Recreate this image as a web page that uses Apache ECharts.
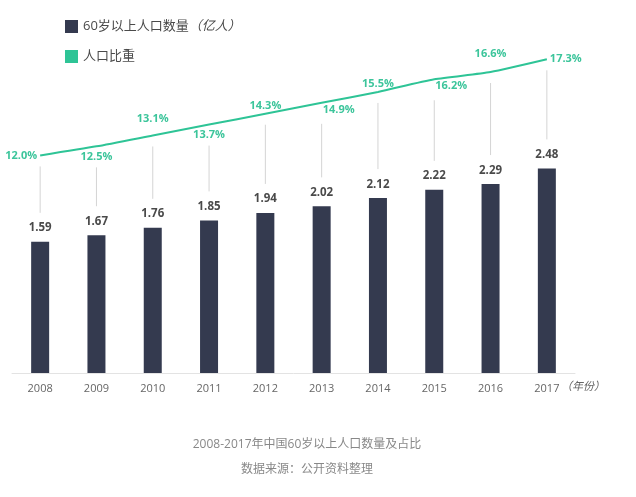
<!DOCTYPE html>
<html>
<head>
<meta charset="utf-8">
<script src="https://cdn.jsdelivr.net/npm/echarts@6/dist/echarts.min.js"></script>
<style>
html,body{margin:0;padding:0;background:#fff;}
#chart{width:636px;height:497px;}
</style>
</head>
<body>
<div id="chart"></div>
<script>
// ---- data ----
const years = ['2008','2009','2010','2011','2012','2013','2014','2015','2016','2017'];
const population = [1.59, 1.67, 1.76, 1.85, 1.94, 2.02, 2.12, 2.22, 2.29, 2.48];
const share = [12.0, 12.5, 13.1, 13.7, 14.3, 14.9, 15.5, 16.2, 16.6, 17.3];
const barName = '60岁以上人口数量';
const lineName = '人口比重';
const unitText = '（亿人）';
const yearUnit = '（年份）';
const caption1 = '2008-2017年中国60岁以上人口数量及占比';
const caption2 = '数据来源：公开资料整理';

// ---- style (label placement for the share line) ----
const pctLabelStyle = [
  {position:'left', distance:3, offset:[0,0]},
  {position:'bottom', distance:5, offset:[0,0]},
  {position:'top', distance:11, offset:[0,0]},
  {position:'bottom', distance:5, offset:[0,0]},
  {position:'top', distance:2, offset:[0,0]},
  {position:'bottom', distance:2, offset:[17,0]},
  {position:'top', distance:3, offset:[0,0]},
  {position:'bottom', distance:1, offset:[17,0]},
  {position:'top', distance:13, offset:[0,0]},
  {position:'right', distance:3, offset:[0,0]}
];

const BAR_MAX = 4;
const PCT_MAX = 18.2;
const FONT = "'Open Sans', 'Noto Sans CJK SC', sans-serif";
const BAR_COLOR = '#343a4f';
const GREEN = '#2ec496';

const chart = echarts.init(document.getElementById('chart'));
chart.setOption({
  backgroundColor: '#fff',
  animation: false,
  textStyle: {fontFamily: FONT},
  legend: {
    orient: 'vertical',
    left: 60,
    top: 15,
    itemWidth: 13,
    itemHeight: 13,
    itemGap: 17,
    icon: 'rect',
    data: [barName, lineName],
    formatter: function (name) {
      return name === barName ? '{a|' + name + '}{b|' + unitText + '}' : '{a|' + name + '}';
    },
    textStyle: {
      rich: {
        a: {fontSize: 13, color: '#4a4a4a', fontFamily: FONT},
        b: {fontSize: 13, color: '#4a4a4a', fontStyle: 'italic', fontFamily: FONT}
      }
    }
  },
  grid: {left: 12, right: 61, top: 43, bottom: 124, containLabel: false},
  xAxis: {
    type: 'category',
    data: years,
    axisLine: {lineStyle: {color: '#e3e3e3', width: 1}},
    axisTick: {show: false},
    axisLabel: {color: '#666', fontSize: 11, margin: 10, fontFamily: FONT}
  },
  yAxis: [
    {type: 'value', min: 0, max: BAR_MAX, show: false, splitLine: {show: false}},
    {type: 'value', min: 0, max: PCT_MAX, show: false, splitLine: {show: false}}
  ],
  graphic: [
    {type: 'text', x: 561, y: 387, style: {text: yearUnit, fill: '#666', font: 'italic 11px ' + FONT, verticalAlign: 'middle', align: 'left'}},
    {type: 'text', x: 307, y: 445, style: {text: caption1, fill: '#888', font: '12px ' + FONT, align: 'center', verticalAlign: 'middle'}},
    {type: 'text', x: 307, y: 470, style: {text: caption2, fill: '#888', font: '12px ' + FONT, align: 'center', verticalAlign: 'middle'}}
  ],
  series: [
    {
      name: barName,
      type: 'bar',
      data: population,
      barWidth: 18,
      itemStyle: {color: BAR_COLOR},
      label: {
        show: true,
        position: 'top',
        distance: 8,
        color: '#4a4a4a',
        fontSize: 11.5,
        fontWeight: 'bold',
        fontFamily: FONT
      },
      z: 2
    },
    {
      name: 'connector',
      type: 'custom',
      data: years.map((y, i) => [i, population[i], share[i]]),
      encode: {x: 0, y: 1},
      silent: true,
      renderItem: function (params, api) {
        const i = api.value(0);
        const bar = api.coord([i, api.value(1)]);
        const pct = api.coord([i, api.value(2) * BAR_MAX / PCT_MAX]);
        const below = pctLabelStyle[i].position === 'bottom';
        const y1 = pct[1] + (below ? 21 : 11);
        const y2 = bar[1] - 29;
        return {
          type: 'line',
          shape: {x1: bar[0], y1: y1, x2: bar[0], y2: y2},
          style: {stroke: '#d4d4d4', lineWidth: 1}
        };
      },
      z: 1
    },
    {
      name: lineName,
      type: 'line',
      yAxisIndex: 1,
      data: share.map((v, i) => ({
        value: v,
        label: {
          position: pctLabelStyle[i].position,
          distance: pctLabelStyle[i].distance,
          offset: pctLabelStyle[i].offset
        }
      })),
      smooth: 0.2,
      symbol: 'circle',
      symbolSize: 0,
      showSymbol: true,
      itemStyle: {color: GREEN},
      lineStyle: {color: GREEN, width: 2},
      label: {
        show: true,
        color: '#3cc59b',
        fontSize: 11,
        fontWeight: 'bold',
        fontFamily: FONT,
        formatter: function (p) { return p.value.toFixed(1) + '%'; }
      },
      z: 3
    }
  ]
});
</script>
</body>
</html>
